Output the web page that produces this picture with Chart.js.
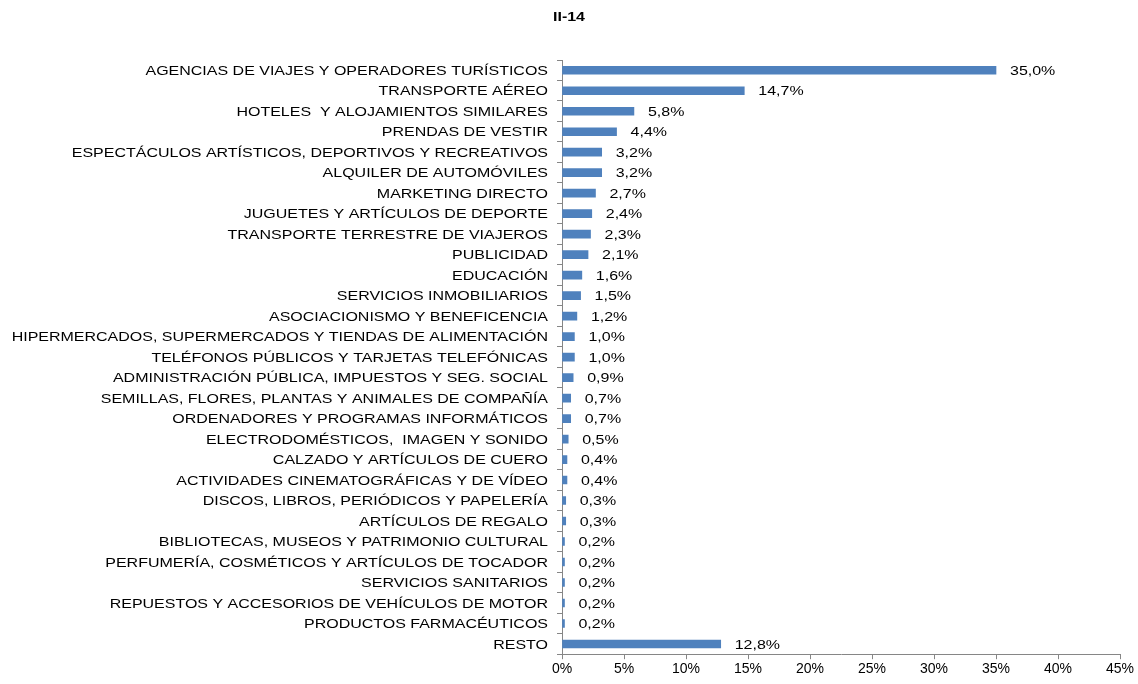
<!DOCTYPE html>
<html>
<head>
<meta charset="utf-8">
<script src="https://cdn.jsdelivr.net/npm/chart.js@4/dist/chart.umd.min.js"></script>
<style>
  html, body { margin: 0; padding: 0; background: #fff; }
  #wrap { width: 1138px; height: 684px; }
</style>
</head>
<body>
<div id="wrap"><canvas id="sectorChart"></canvas></div>
<script>
const categories = [
  'AGENCIAS DE VIAJES Y OPERADORES TURÍSTICOS',
  'TRANSPORTE AÉREO',
  'HOTELES  Y ALOJAMIENTOS SIMILARES',
  'PRENDAS DE VESTIR',
  'ESPECTÁCULOS ARTÍSTICOS, DEPORTIVOS Y RECREATIVOS',
  'ALQUILER DE AUTOMÓVILES',
  'MARKETING DIRECTO',
  'JUGUETES Y ARTÍCULOS DE DEPORTE',
  'TRANSPORTE TERRESTRE DE VIAJEROS',
  'PUBLICIDAD',
  'EDUCACIÓN',
  'SERVICIOS INMOBILIARIOS',
  'ASOCIACIONISMO Y BENEFICENCIA',
  'HIPERMERCADOS, SUPERMERCADOS Y TIENDAS DE ALIMENTACIÓN',
  'TELÉFONOS PÚBLICOS Y TARJETAS TELEFÓNICAS',
  'ADMINISTRACIÓN PÚBLICA, IMPUESTOS Y SEG. SOCIAL',
  'SEMILLAS, FLORES, PLANTAS Y ANIMALES DE COMPAÑÍA',
  'ORDENADORES Y PROGRAMAS INFORMÁTICOS',
  'ELECTRODOMÉSTICOS,  IMAGEN Y SONIDO',
  'CALZADO Y ARTÍCULOS DE CUERO',
  'ACTIVIDADES CINEMATOGRÁFICAS Y DE VÍDEO',
  'DISCOS, LIBROS, PERIÓDICOS Y PAPELERÍA',
  'ARTÍCULOS DE REGALO',
  'BIBLIOTECAS, MUSEOS Y PATRIMONIO CULTURAL',
  'PERFUMERÍA, COSMÉTICOS Y ARTÍCULOS DE TOCADOR',
  'SERVICIOS SANITARIOS',
  'REPUESTOS Y ACCESORIOS DE VEHÍCULOS DE MOTOR',
  'PRODUCTOS FARMACÉUTICOS',
  'RESTO'
];
const shares = [35.0, 14.7, 5.8, 4.4, 3.2, 3.2, 2.7, 2.4, 2.3, 2.1, 1.6, 1.5, 1.2, 1.0, 1.0,
  0.9, 0.7, 0.7, 0.5, 0.4, 0.4, 0.3, 0.3, 0.2, 0.2, 0.2, 0.2, 0.2, 12.8];
const xTicks = [0, 5, 10, 15, 20, 25, 30, 35, 40, 45];
const chartTitle = 'II-14';

const font = "'Liberation Sans', Arial, sans-serif";
const stretch = 1.23; // the source text is a bit wider than plain Arial

function wideText(ctx, txt, x, y, align) {
  ctx.save();
  ctx.translate(x, y);
  ctx.scale(stretch, 1);
  ctx.textAlign = align;
  ctx.fillText(txt, 0, 0);
  ctx.restore();
}

// title, category names and value labels, drawn a little stretched
const wideLabels = {
  id: 'wideLabels',
  afterDatasetsDraw(chart) {
    const ctx = chart.ctx;
    const yScale = chart.scales.y;
    const meta = chart.getDatasetMeta(0);
    ctx.save();
    ctx.fillStyle = '#000';
    ctx.textBaseline = 'middle';

    ctx.font = 'bold 13px ' + font;
    wideText(ctx, chartTitle, chart.width / 2, 17, 'center');

    ctx.font = '13px ' + font;
    categories.forEach((name, i) => {
      wideText(ctx, name, yScale.right - 14, yScale.getPixelForTick(i) + 1, 'right');
    });
    meta.data.forEach((bar, i) => {
      const txt = shares[i].toFixed(1).replace('.', ',') + '%';
      wideText(ctx, txt, bar.x + 14, bar.y + 1, 'left');
    });
    ctx.restore();
  }
};

const ctx = document.getElementById('sectorChart').getContext('2d');
const sectorChart = new Chart(ctx, {
  type: 'bar',
  data: {
    labels: categories,
    datasets: [{
      data: shares,
      backgroundColor: '#4F81BD',
      borderWidth: 0,
      barThickness: 8
    }]
  },
  plugins: [wideLabels],
  options: {
    indexAxis: 'y',
    responsive: true,
    maintainAspectRatio: false,
    animation: false,
    layout: { padding: { top: 60, right: 18, left: 0, bottom: 4 } },
    plugins: {
      legend: { display: false },
      tooltip: { enabled: false },
      title: { display: false }
    },
    scales: {
      x: {
        min: 0,
        max: 45,
        afterBuildTicks(scale) {
          scale.ticks = xTicks.map(v => ({ value: v }));
        },
        ticks: {
          color: '#000',
          font: { family: font, size: 14 },
          padding: 2,
          maxRotation: 0,
          callback: v => v + '%'
        },
        grid: { drawOnChartArea: false, tickLength: 5, color: '#868686' },
        border: { color: '#868686' }
      },
      y: {
        afterFit(scale) { scale.width = 562; },
        ticks: { display: false, autoSkip: false },
        grid: { drawOnChartArea: false, offset: true, tickLength: 5, color: '#868686' },
        border: { color: '#868686' }
      }
    }
  }
});
</script>
</body>
</html>
